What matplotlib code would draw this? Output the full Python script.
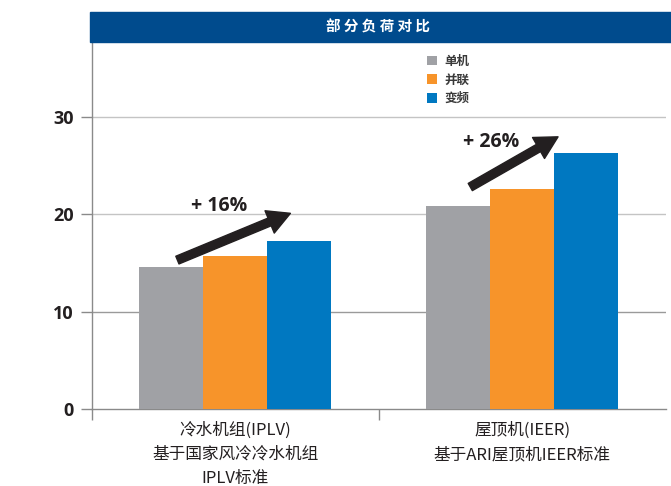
import matplotlib.pyplot as plt
import matplotlib.patches as mpatches
import numpy as np

plt.rcParams['font.family'] = ['Noto Sans CJK SC', 'DejaVu Sans']

categories = ['冷水机组(IPLV)\n基于国家风冷冷水机组\nIPLV标准',
              '屋顶机(IEER)\n基于ARI屋顶机IEER标准']
series = ['单机', '并联', '变频']
values = {
    '单机': [14.6, 20.8],
    '并联': [15.7, 22.6],
    '变频': [17.3, 26.3],
}
colors = {'单机': '#a0a1a5', '并联': '#f7942a', '变频': '#0078c1'}
gains = ['+ 16%', '+ 26%']
yticks = [0, 10, 20, 30]

fig = plt.figure(figsize=(6.71, 4.86), dpi=100)
ax = fig.add_axes([0.137, 0.158, 0.855, 0.756])

x = np.arange(len(categories))
bw = 0.223
for i, s in enumerate(series):
    ax.bar(x + (i - 1) * bw, values[s], width=bw, color=colors[s],
           label=s, zorder=3)

# horizontal guides
for y, c in zip([10, 20, 30], ['#9a9a9a', '#c4c4c4', '#c4c4c4']):
    ax.axhline(y, color=c, lw=1.0, zorder=1)

ax.set_xlim(-0.5, 1.5)
ax.set_ylim(0, 37.7)

ax.set_yticks(yticks)
ax.set_yticklabels([str(t) for t in yticks], fontsize=13, fontweight='bold',
                   family='Open Sans', color='#231f20')
ax.tick_params(axis='y', length=8, width=1, color='#8a8a8a', pad=5)

ax.set_xticks(x)
ax.set_xticklabels(categories, fontsize=12, color='#231f20', linespacing=1.55,
                   va='top')
ax.tick_params(axis='x', length=0, pad=9)
ax.set_xticks([-0.5, 0.5], minor=True)
ax.tick_params(axis='x', which='minor', length=8, width=1, color='#8a8a8a')

for side in ['top', 'right']:
    ax.spines[side].set_visible(False)
for side in ['left', 'bottom']:
    ax.spines[side].set_color('#8a8a8a')
    ax.spines[side].set_linewidth(1)

# growth arrows
arrows = [((-0.202, 15.3), (0.192, 20.1)), ((0.819, 22.8), (1.125, 27.95))]
label_pos = [(-0.056, 20.8), (0.892, 27.4)]
for (a, b), (lx, ly), g in zip(arrows, label_pos, gains):
    arr = mpatches.FancyArrowPatch(a, b, arrowstyle='simple,head_length=1.35,head_width=1.45,tail_width=0.5',
                                   mutation_scale=12, color='#231f20', shrinkA=0, shrinkB=0,
                                   zorder=5)
    ax.add_patch(arr)
    ax.text(lx, ly, g, ha='center', va='center', fontsize=14, fontweight='bold',
            family='Open Sans', color='#231f20', zorder=6)

leg = ax.legend(loc='upper left', bbox_to_anchor=(0.565, 0.995), frameon=False,
                handlelength=0.8, handleheight=0.8, handletextpad=0.6,
                labelspacing=0.45, prop={'size': 9, 'weight': 'bold'})
for t in leg.get_texts():
    t.set_color('#3a3a3a')

# title banner
fig.patches.append(mpatches.Rectangle((90 / 671, 0.914), 1 - 90 / 671, 0.062,
                                      transform=fig.transFigure, color='#004b8d',
                                      zorder=0))
fig.text(0.5635, 0.945, '部 分 负 荷 对 比', color='white', fontsize=10.5,
         fontweight='bold', ha='center', va='center')

fig.savefig('out.png', dpi=100)
